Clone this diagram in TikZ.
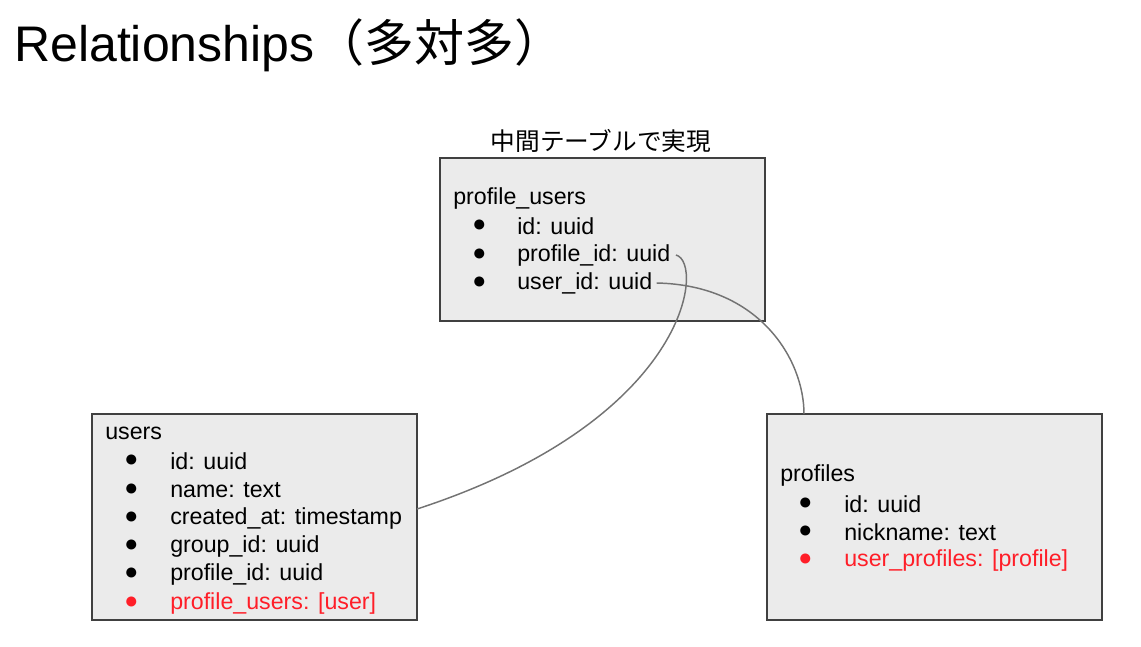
\documentclass[tikz,border=0pt]{standalone}
\usepackage{fontspec}
\setmainfont{Liberation Sans}
\newfontfamily\cjk{Noto Sans CJK JP}
\definecolor{hl}{RGB}{255,30,40}
\begin{document}
\begin{tikzpicture}[x=0.75pt,y=-0.75pt,
  tbl/.style={draw=black!75,fill=black!8,line width=0.8pt},
  txt/.style={anchor=west,inner sep=0pt,font=\fontsize{17.4}{17.4}\selectfont},
  red/.style={text=hl},
  conn/.style={draw=black!55,line width=1.1pt}]
\useasboundingbox (0,0) rectangle (1141,646);
\node[anchor=west,inner sep=0pt,font=\fontsize{37.5}{37.5}\selectfont] (title) at (14,45) {Relationships{\cjk（多対多）}};
\node[inner sep=0pt,font=\cjk\fontsize{18.5}{18.5}\selectfont] (mid) at (601,141) {中間テーブルで実現};
\draw[tbl] (440,158) rectangle (765,321);
\draw[tbl] (92,414) rectangle (417,620);
\draw[tbl] (767,414) rectangle (1102,620);
% profile_users
\node[txt] (pu) at (453,198) {profile\_users};
\foreach \y/\t/\n in {226/id: uuid/pu1,255/profile\_id: uuid/pu2,283/user\_id: uuid/pu3}{
  \node[txt] (\n b) at (472,\y) {●};
  \node[txt] (\n) at (517,\y) {\t};}
% users
\node[txt] (us) at (105,433) {users};
\foreach \y/\t/\n in {461/id: uuid/u1,490/name: text/u2,518/created\_at: timestamp/u3,546/group\_id: uuid/u4,574/profile\_id: uuid/u5}{
  \node[txt] (\n b) at (124,\y) {●};
  \node[txt] (\n) at (170,\y) {\t};}
\node[txt,red] (u6b) at (124,603) {●};
\node[txt,red] (u6) at (170,603) {profile\_users: [user]};
% profiles
\node[txt] (pr) at (780,475) {profiles};
\node[txt] (p1b) at (798,504) {●};
\node[txt] (p1) at (844,504) {id: uuid};
\node[txt] (p2b) at (798,532) {●};
\node[txt] (p2) at (844,532) {nickname: text};
\node[txt,red] (p3b) at (798,560) {●};
\node[txt,red] (p3) at (844,560) {user\_profiles: [profile]};
\coordinate (ue) at (417,509);
\coordinate (pt) at (804,414);
\draw[conn] ([xshift=4pt]pu2.east) .. controls (705,262) and (690,420) .. (ue);
\draw[conn] ([xshift=3pt]pu3.east) .. controls (760,285) and (804,360) .. (pt);
\end{tikzpicture}
\end{document}
